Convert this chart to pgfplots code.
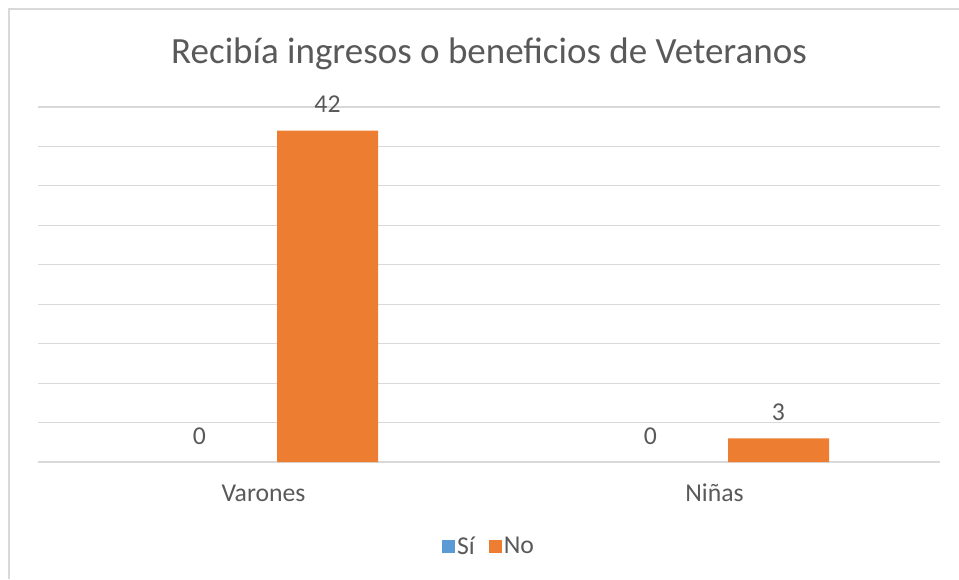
\documentclass[border=0pt]{standalone}
\usepackage{pgfplots}
\pgfplotsset{compat=1.18}
\usepackage{fontspec}
\setmainfont{Carlito}
\definecolor{sibl}{HTML}{5B9BD5}
\definecolor{noor}{HTML}{ED7D31}
\definecolor{gridc}{HTML}{D9D9D9}
\definecolor{txt}{HTML}{595959}
\begin{document}
\begin{tikzpicture}[x=1pt,y=1pt]
\path[use as bounding box] (0,0) rectangle (959,579);
\draw[gridc, line width=1.2pt] (9,0) -- (9,570) -- (959,570);
\begin{axis}[
  at={(38pt,117pt)}, anchor=south west,
  scale only axis, width=902pt, height=355pt,
  xmin=-0.5, xmax=1.5, ymin=0, ymax=45,
  xtick={0,1}, xticklabels={Varones,Niñas},
  ytick={0,5,...,45}, yticklabels={},
  ymajorgrids, grid style={gridc, line width=1.2pt},
  axis line style={draw=none}, major tick length=0pt,
  /pgf/number format/assume math mode=true,
  ybar=27pt, bar width=101pt,
  xticklabel style={font=\fontsize{25.7}{30}\selectfont, text=txt, anchor=base, inner sep=0pt, yshift=-39pt},
  title={Recibía ingresos o beneficios de Veteranos},
  title style={font=\fontsize{37}{44}\selectfont, text=txt, at={(0.5,1)}, anchor=base, inner sep=0pt, yshift=38pt},
  nodes near coords,
  every node near coord/.append style={font=\fontsize{25.7}{30}\selectfont, text=txt, anchor=base, inner sep=0pt, yshift=18pt},
  legend style={at={(0.5,-0.238)}, anchor=center, draw=none, font=\fontsize{25.7}{30}\selectfont, text=txt, legend columns=2, /tikz/every even column/.append style={column sep=12pt}},
  clip=false,
]
\addplot[draw=none, fill=none, legend image code/.code={\fill[sibl] (-3pt,-6.5pt) rectangle (10pt,6.5pt);}] coordinates {(0,0) (1,0)};
\addplot[fill=noor, draw=none, legend image code/.code={\fill[noor] (-3pt,-6.5pt) rectangle (10pt,6.5pt);}] coordinates {(0,42) (1,3)};
\legend{Sí,No}
\end{axis}
\end{tikzpicture}
\end{document}
